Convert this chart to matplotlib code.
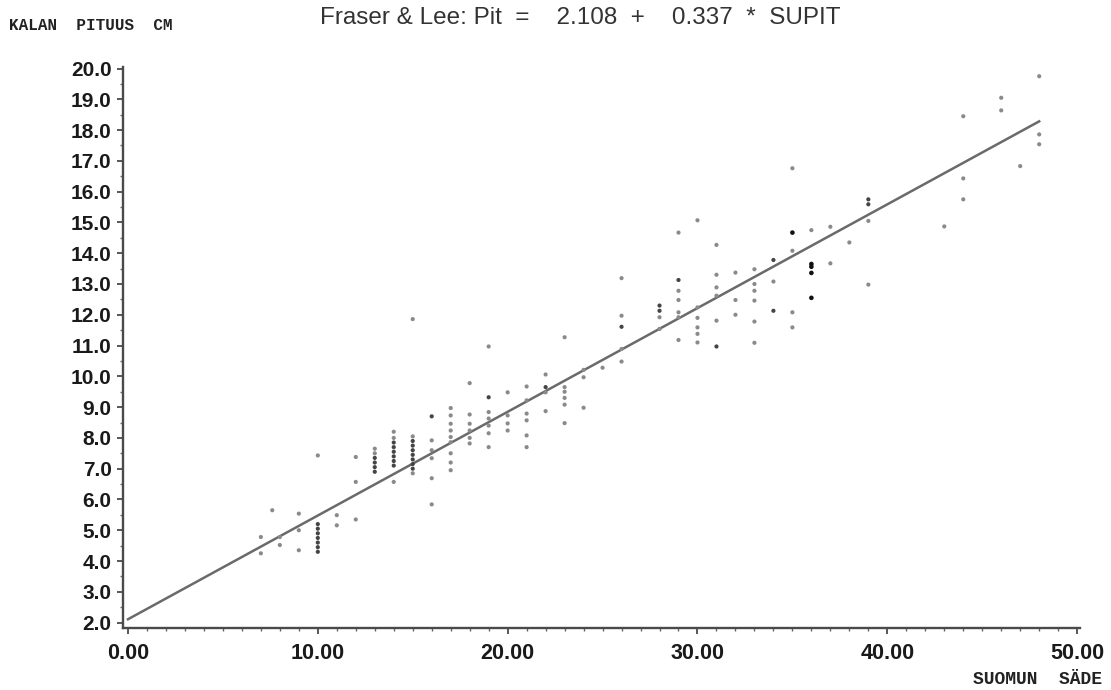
import matplotlib
matplotlib.use("Agg")
import matplotlib.pyplot as plt
from matplotlib.ticker import MultipleLocator, FormatStrFormatter

# ---- data (scale radius vs fish length) ----
gray_x = [7, 7, 7.6, 8, 8, 9, 9, 9,
          10, 11, 11, 12, 12, 12,
          13, 13, 14, 14, 14, 15, 15, 15,
          16, 16, 16, 16, 16,
          17, 17, 17, 17, 17, 17, 17, 17, 17,
          18, 18, 18, 18, 18, 18,
          19, 19, 19, 19, 19, 19,
          20, 20, 20, 20,
          21, 21, 21, 21, 21, 21,
          22, 22, 22,
          23, 23, 23, 23, 23, 23,
          24, 24, 24, 25,
          26, 26, 26, 26,
          28, 28,
          29, 29, 29, 29, 29, 29,
          30, 30, 30, 30, 30, 30,
          31, 31, 31, 31, 31,
          32, 32, 32,
          33, 33, 33, 33, 33, 33,
          34, 35, 35, 35, 35, 36, 37, 37, 38,
          39, 39, 43, 44, 44, 44, 46, 46, 47, 48, 48, 48]
gray_y = [4.25, 4.78, 5.65, 4.52, 4.78, 5.54, 5.00, 4.35,
          7.43, 5.49, 5.16, 7.38, 6.57, 5.35,
          7.65, 7.50, 8.20, 8.00, 6.57, 11.86, 8.05, 6.85,
          7.92, 7.60, 7.34, 6.69, 5.84,
          8.97, 8.73, 8.46, 8.24, 8.03, 7.86, 7.50, 7.20, 6.95,
          9.78, 8.76, 8.46, 8.24, 8.00, 7.82,
          10.97, 8.84, 8.63, 8.40, 8.15, 7.70,
          9.48, 8.73, 8.47, 8.24,
          9.67, 9.22, 8.79, 8.57, 8.08, 7.70,
          10.06, 9.48, 8.87,
          11.27, 9.65, 9.50, 9.30, 9.08, 8.48,
          10.21, 9.97, 8.98, 10.28,
          13.19, 11.97, 10.89, 10.48,
          11.92, 11.54,
          14.67, 12.78, 12.48, 12.08, 11.92, 11.18,
          15.07, 12.24, 11.90, 11.59, 11.38, 11.10,
          14.27, 13.30, 12.89, 12.62, 11.81,
          13.37, 12.48, 12.00,
          13.48, 13.00, 12.78, 12.46, 11.78, 11.09,
          13.08, 16.76, 14.08, 12.08, 11.59, 14.75, 14.86, 13.67, 14.35,
          15.05, 12.98, 14.87, 18.45, 16.43, 15.75, 19.05, 18.64, 16.83, 19.75, 17.86, 17.54]

dark_x = [10, 10, 10, 10, 10, 10, 10,
          13, 13, 13, 13,
          14, 14, 14, 14, 14, 14,
          15, 15, 15, 15, 15, 15, 15,
          16, 19, 22, 26, 28, 28, 29, 31, 34, 34, 39, 39]
dark_y = [5.20, 5.05, 4.90, 4.75, 4.60, 4.45, 4.30,
          7.35, 7.20, 7.05, 6.90,
          7.85, 7.70, 7.55, 7.40, 7.25, 7.10,
          7.90, 7.75, 7.60, 7.45, 7.30, 7.15, 7.00,
          8.70, 9.32, 9.65, 11.61, 12.30, 12.13, 13.13, 10.97, 13.78, 12.13, 15.75, 15.59]

black_x = [35, 36, 36, 36, 36]
black_y = [14.67, 13.65, 13.56, 13.36, 12.55]

intercept = 2.108
slope = 0.337
line_x = [0, 48]

x_ticks = [0, 10, 20, 30, 40, 50]
y_ticks = [2, 3, 4, 5, 6, 7, 8, 9, 10, 11, 12, 13, 14, 15, 16, 17, 18, 19, 20]

title_text = "Fraser & Lee: Pit  =    2.108  +    0.337  *  SUPIT"
y_label = "KALAN  PITUUS  CM"
x_label = "SUOMUN  SÄDE"

# ---- figure ----
fig = plt.figure(figsize=(11.11, 6.9), dpi=100)
ax = fig.add_axes([0.1104, 0.0899, 0.8617, 0.813])

ax.plot(line_x, [intercept + slope * v for v in line_x], color="#6a6a6a", lw=1.8, zorder=2)
ax.scatter(gray_x, gray_y, s=9, color="#8a8a8a", edgecolors="none", zorder=3)
ax.scatter(dark_x, dark_y, s=9, color="#444444", edgecolors="none", zorder=3)
ax.scatter(black_x, black_y, s=11, color="#111111", edgecolors="none", zorder=4)

ax.set_xlim(-0.28, 50.15)
ax.set_ylim(1.825, 20.05)

for s in ("top", "right"):
    ax.spines[s].set_visible(False)
for s in ("left", "bottom"):
    ax.spines[s].set_color("#4a4a4a")
    ax.spines[s].set_linewidth(1.7)

ax.set_xticks(x_ticks)
ax.set_yticks(y_ticks)
ax.xaxis.set_major_formatter(FormatStrFormatter("%.2f"))
ax.yaxis.set_major_formatter(FormatStrFormatter("%.1f"))
ax.xaxis.set_minor_locator(MultipleLocator(1))
ax.yaxis.set_minor_locator(MultipleLocator(0.5))
ax.tick_params(axis="both", which="major", direction="out", length=4, width=1.3,
               color="#4a4a4a", labelcolor="#1a1a1a")
ax.tick_params(axis="x", which="major", labelsize=15.5, pad=7)
ax.tick_params(axis="y", which="major", labelsize=15, pad=4)
ax.tick_params(axis="both", which="minor", direction="out", length=2.5, width=1.0, color="#666666")
for lab in ax.get_xticklabels() + ax.get_yticklabels():
    lab.set_fontfamily("Liberation Sans")
    lab.set_fontweight("bold")

fig.text(320 / 1111, 1 - 18 / 690, title_text, fontsize=17.5, family="Liberation Sans",
         color="#333333", ha="left", va="center")
fig.text(9 / 1111, 1 - 25 / 690, y_label, fontsize=11.5, family="Liberation Mono",
         fontweight="bold", color="#222222", ha="left", va="center")
fig.text(1102 / 1111, 1 - 680 / 690, x_label, fontsize=13, family="Liberation Mono",
         fontweight="bold", color="#222222", ha="right", va="center")

fig.savefig("out.png", dpi=100, facecolor="white")
